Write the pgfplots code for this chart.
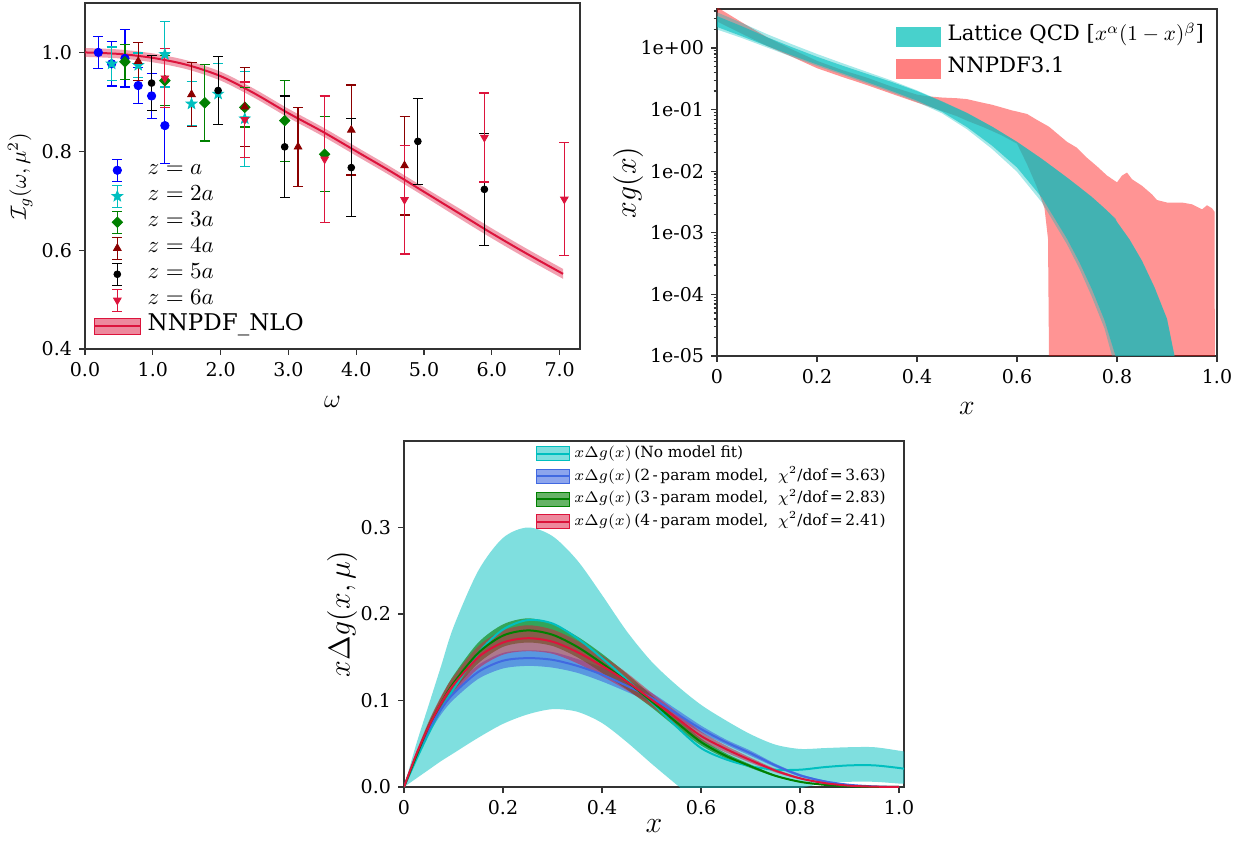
\documentclass[border=0pt]{standalone}
\usepackage{fix-cm}
\usepackage[no-math]{fontspec}
\setmainfont{DejaVu Serif}
\usepackage{pgfplots}
\pgfplotsset{compat=1.18}
\usepackage{pgfplotstable}
\usepgfplotslibrary{fillbetween}

\definecolor{mplc}{rgb}{0,0.75,0.75}
\definecolor{crimson}{RGB}{220,20,60}
\definecolor{dred}{RGB}{139,0,0}
\definecolor{mplgreen}{RGB}{0,128,0}
\definecolor{royalblue}{RGB}{65,105,225}
\definecolor{mturq}{RGB}{72,209,204}

\pgfdeclareplotmark{fstar}{%
  \pgfpathmoveto{\pgfpointpolar{90}{\pgfplotmarksize}}%
  \pgfpathlineto{\pgfpointpolar{126}{0.42\pgfplotmarksize}}%
  \pgfpathlineto{\pgfpointpolar{162}{\pgfplotmarksize}}%
  \pgfpathlineto{\pgfpointpolar{198}{0.42\pgfplotmarksize}}%
  \pgfpathlineto{\pgfpointpolar{234}{\pgfplotmarksize}}%
  \pgfpathlineto{\pgfpointpolar{270}{0.42\pgfplotmarksize}}%
  \pgfpathlineto{\pgfpointpolar{306}{\pgfplotmarksize}}%
  \pgfpathlineto{\pgfpointpolar{342}{0.42\pgfplotmarksize}}%
  \pgfpathlineto{\pgfpointpolar{18}{\pgfplotmarksize}}%
  \pgfpathlineto{\pgfpointpolar{54}{0.42\pgfplotmarksize}}%
  \pgfpathclose\pgfusepathqfillstroke}

\pgfplotsset{
  mystyle/.style={
    scale only axis, anchor=south west,
    axis line style={black!80, line width=0.65pt},
    tick align=outside, tick pos=left,
    major tick length=3pt, minor tick length=1.75pt,
    tick style={black!80, line width=0.6pt},
    tick label style={font=\fontsize{9.5}{11}\selectfont},
  },
  errleg/.style n args={3}{legend image code/.code={
    \draw[#1, line width=0.6pt] (11.5pt,-5.5pt)--(11.5pt,5.5pt) (9pt,-5.5pt)--(14pt,-5.5pt) (9pt,5.5pt)--(14pt,5.5pt);
    \draw[#1, only marks, mark=#2, mark size=#3] plot coordinates {(11.5pt,0pt)};
    \path (0pt,0pt) (23pt,0pt);
  }},
  errpl/.style={error bars/.cd, y dir=both, y explicit,
    error bar style={line width=0.6pt},
    error mark=|,
    error mark options={mark size=2.5pt, line width=0.6pt}},
}

% ---------------- top-left data ----------------
\pgfplotstableread{
x c lo hi
0.0 1.000 0.991 1.009
0.5 0.997 0.988 1.006
1.0 0.989 0.980 0.998
1.5 0.975 0.966 0.984
2.0 0.952 0.943 0.961
2.5 0.917 0.908 0.926
3.0 0.877 0.868 0.886
3.5 0.840 0.831 0.849
4.0 0.800 0.791 0.809
4.5 0.760 0.751 0.769
5.0 0.718 0.709 0.727
5.5 0.676 0.666 0.686
6.0 0.634 0.624 0.644
6.5 0.594 0.584 0.604
7.05 0.552 0.542 0.562
}\nnpdfw

\pgfplotstableread{
w v e
0.196 1.000 0.033
0.393 0.977 0.045
0.589 0.988 0.058
0.785 0.933 0.036
0.982 0.912 0.046
1.178 0.852 0.077
}\za
\pgfplotstableread{
w v e
0.393 0.977 0.034
0.785 0.974 0.025
1.178 0.996 0.066
1.571 0.896 0.045
1.963 0.916 0.062
2.356 0.866 0.096
}\zb
\pgfplotstableread{
w v e
0.589 0.981 0.035
1.178 0.943 0.050
1.767 0.898 0.077
2.356 0.889 0.040
2.945 0.862 0.082
3.534 0.794 0.076
}\zc
\pgfplotstableread{
w v e
0.785 0.982 0.038
1.571 0.915 0.065
2.356 0.890 0.080
3.142 0.809 0.080
3.927 0.843 0.091
4.712 0.771 0.100
}\zd
\pgfplotstableread{
w v e
0.982 0.938 0.055
1.963 0.923 0.068
2.945 0.809 0.103
3.927 0.767 0.099
4.909 0.820 0.087
5.890 0.723 0.113
}\ze
\pgfplotstableread{
w v e
1.178 0.948 0.060
2.356 0.864 0.076
3.534 0.784 0.128
4.712 0.702 0.110
5.890 0.828 0.090
7.069 0.703 0.114
}\zf

% ---------------- top-right data ----------------
\pgfplotstableread{
x lo hi
0.0 2.7 4.6
0.05 1.7 2.6
0.1 1.08 1.5
0.15 0.72 0.95
0.2 0.47 0.62
0.25 0.34 0.44
0.3 0.25 0.33
0.35 0.18 0.235
0.4 0.13 0.175
0.42 0.115 0.165
0.45 0.095 0.157
0.48 0.078 0.153
0.5 0.066 0.148
0.53 0.053 0.13
0.55 0.045 0.12
0.57 0.038 0.108
0.59 0.031 0.097
0.6 0.028 0.093
0.62 0.013 0.085
0.64 0.0055 0.068
0.655 0.0025 0.058
0.662 0.0008 0.054
0.665 0.000001 0.052
0.7 0.000001 0.03
0.72 0.000001 0.024
0.74 0.000001 0.0165
0.76 0.000001 0.012
0.78 0.000001 0.0085
0.8 0.000001 0.0066
0.81 0.000001 0.0085
0.82 0.000001 0.0095
0.83 0.000001 0.0074
0.85 0.000001 0.0058
0.87 0.000001 0.0042
0.88 0.000001 0.0034
0.9 0.000001 0.0031
0.93 0.000001 0.0031
0.95 0.000001 0.0029
0.97 0.000001 0.0024
0.98 0.000001 0.0028
0.99 0.000001 0.0025
0.995 0.000001 0.0022
0.996 0.000001 0.000001
}\nnpdfb

\pgfplotstableread{
x lo hi
0.0 2.2 3.3
0.05 1.55 2.25
0.1 1.08 1.5
0.15 0.76 1.03
0.2 0.54 0.72
0.25 0.39 0.52
0.3 0.28 0.38
0.35 0.2 0.28
0.4 0.14 0.2
0.45 0.092 0.135
0.5 0.052 0.088
0.55 0.026 0.053
0.6 0.0115 0.03
0.65 0.0037 0.0158
0.7 0.0008 0.0079
0.725 0.00033 0.0055
0.75 0.00012 0.0038
0.775 0.000038 0.0025
0.797 0.00001 0.0017
0.8 0.000001 0.0015
0.825 0.000001 0.00078
0.85 0.000001 0.00035
0.875 0.000001 0.00013
0.9 0.000001 0.00004
0.915 0.000001 0.00001
0.93 0.000001 0.000001
}\latmain

\pgfplotstableread{
x lo hi
0.0 2.0 3.8
0.05 1.45 2.55
0.1 1.02 1.68
0.15 0.72 1.15
0.2 0.51 0.8
0.25 0.37 0.57
0.3 0.265 0.41
0.35 0.19 0.295
0.4 0.133 0.205
0.45 0.087 0.137
0.5 0.048 0.089
0.55 0.023 0.053
0.6 0.0098 0.03
0.65 0.0031 0.0158
0.7 0.00065 0.0079
0.725 0.00026 0.0055
0.75 0.00009 0.0038
0.775 0.000028 0.0025
0.79 0.00001 0.0019
0.8 0.000001 0.0015
0.825 0.000001 0.00078
0.85 0.000001 0.00035
0.875 0.000001 0.00013
0.9 0.000001 0.00004
0.915 0.000001 0.00001
0.93 0.000001 0.000001
}\latlight

% ---------------- bottom data ----------------
\pgfplotstableread{
x c lo hi
0 0 0 0
0.025 0.032 0.01 0.05
0.05 0.062 0.02 0.095
0.075 0.09 0.03 0.14
0.1 0.113 0.039 0.185
0.15 0.155 0.057 0.25
0.2 0.182 0.073 0.288
0.25 0.193 0.084 0.3
0.3 0.189 0.09 0.29
0.35 0.172 0.087 0.262
0.4 0.149 0.074 0.222
0.45 0.124 0.052 0.18
0.5 0.098 0.027 0.145
0.55 0.07 0.003 0.118
0.6 0.045 -0.02 0.095
0.65 0.032 -0.03 0.077
0.7 0.024 -0.028 0.061
0.75 0.02 -0.015 0.049
0.8 0.02 -0.002 0.044
0.85 0.023 0.004 0.045
0.9 0.025 0.006 0.046
0.95 0.025 0.006 0.046
1.0 0.022 0.004 0.042
1.01 0.021 0.004 0.041
}\nofit

\pgfplotstableread{
x c lo hi
0 0 0 0
0.025 0.036 0.033 0.039
0.05 0.066 0.061 0.071
0.075 0.09 0.084 0.096
0.1 0.108 0.101 0.115
0.15 0.133 0.125 0.141
0.2 0.146 0.137 0.155
0.25 0.149 0.140 0.158
0.3 0.147 0.138 0.156
0.35 0.14 0.132 0.148
0.4 0.13 0.122 0.138
0.45 0.117 0.110 0.124
0.5 0.103 0.097 0.109
0.55 0.085 0.080 0.090
0.6 0.067 0.063 0.071
0.65 0.052 0.049 0.055
0.7 0.039 0.036 0.042
0.75 0.025 0.023 0.027
0.8 0.0135 0.012 0.015
0.85 0.0065 0.0055 0.0075
0.9 0.0025 0.002 0.003
0.95 0.0007 0.0005 0.0009
1.0 0 0 0
}\twop

\pgfplotstableread{
x c lo hi
0 0 0 0
0.025 0.036 0.033 0.039
0.05 0.07 0.065 0.075
0.075 0.097 0.09 0.104
0.1 0.12 0.111 0.129
0.15 0.155 0.143 0.167
0.2 0.175 0.162 0.188
0.25 0.181 0.167 0.195
0.3 0.176 0.163 0.189
0.35 0.162 0.150 0.174
0.4 0.143 0.132 0.154
0.45 0.122 0.113 0.131
0.5 0.099 0.092 0.106
0.55 0.075 0.069 0.081
0.6 0.052 0.048 0.056
0.65 0.036 0.033 0.039
0.7 0.024 0.022 0.026
0.75 0.013 0.012 0.014
0.8 0.006 0.0055 0.0065
0.85 0.0025 0.0023 0.0027
0.9 0.0008 0.0007 0.0009
0.95 0.0002 0.0002 0.0002
1.0 0 0 0
}\threep

\pgfplotstableread{
x c lo hi
0 0 0 0
0.025 0.038 0.035 0.041
0.05 0.07 0.064 0.076
0.075 0.097 0.089 0.105
0.1 0.118 0.108 0.128
0.15 0.15 0.137 0.163
0.2 0.167 0.153 0.181
0.25 0.172 0.157 0.187
0.3 0.168 0.154 0.182
0.35 0.156 0.143 0.169
0.4 0.14 0.128 0.152
0.45 0.122 0.112 0.132
0.5 0.101 0.093 0.109
0.55 0.08 0.073 0.087
0.6 0.059 0.054 0.064
0.65 0.044 0.040 0.048
0.7 0.031 0.028 0.034
0.75 0.019 0.017 0.021
0.8 0.01 0.009 0.011
0.85 0.0045 0.004 0.005
0.9 0.0015 0.0013 0.0017
0.95 0.0004 0.0003 0.0005
1.0 0 0 0
}\fourp

\begin{document}
\begin{tikzpicture}

% ================= TOP LEFT =================
\begin{axis}[mystyle, at={(42.5pt,246pt)}, width=247.5pt, height=173pt,
  xmin=0, xmax=7.3, ymin=0.4, ymax=1.1,
  xtick={0,1,2,3,4,5,6,7}, xticklabels={0.0,1.0,2.0,3.0,4.0,5.0,6.0,7.0},
  ytick={0.4,0.6,0.8,1.0}, yticklabels={0.4,0.6,0.8,1.0},
  xlabel={$\omega$}, ylabel={$\mathcal{I}_g(\omega,\mu^2)$},
  xlabel style={font=\fontsize{13}{15}\selectfont, at={(axis description cs:0.5,-0.153)}, anchor=center},
  ylabel style={font=\fontsize{11}{13}\selectfont, at={(axis description cs:-0.131,0.5)}, anchor=center},
  legend style={draw=none, fill=none, at={(axis description cs:0.016,0.027)}, anchor=south west,
    font=\fontsize{11.5}{13}\selectfont, row sep=0pt, inner sep=0pt, column sep=3.2pt,
    nodes={inner sep=0pt, text height=8.5pt, text depth=4.5pt}},
  legend cell align=left,
]
\addplot[name path=tlU, draw=none, smooth, forget plot] table[x=x, y=hi] {\nnpdfw};
\addplot[name path=tlL, draw=none, smooth, forget plot] table[x=x, y=lo] {\nnpdfw};
\addplot[fill=crimson, fill opacity=0.4, draw=none, forget plot] fill between[of=tlU and tlL];
\addplot[crimson, line width=1pt, smooth, forget plot] table[x=x, y=c] {\nnpdfw};

\addplot[only marks, color=blue, mark=*, mark size=2.1pt, errleg={blue}{*}{2.1pt}, errpl] table[x=w, y=v, y error=e] {\za};
\addlegendentry{$z=a$}
\addplot[only marks, color=mplc, mark=fstar, mark size=2.8pt, errleg={mplc}{fstar}{2.8pt}, errpl] table[x=w, y=v, y error=e] {\zb};
\addlegendentry{$z=2a$}
\addplot[only marks, color=mplgreen, mark=square*, mark size=1.85pt, mark options={rotate=45}, errleg={mplgreen}{square*, mark options={rotate=45}}{1.85pt}, errpl] table[x=w, y=v, y error=e] {\zc};
\addlegendentry{$z=3a$}
\addplot[only marks, color=dred, mark=triangle*, mark size=2.2pt, errleg={dred}{triangle*}{2.2pt}, errpl] table[x=w, y=v, y error=e] {\zd};
\addlegendentry{$z=4a$}
\addplot[only marks, color=black, mark=*, mark size=1.7pt, errleg={black}{*}{1.7pt}, errpl] table[x=w, y=v, y error=e] {\ze};
\addlegendentry{$z=5a$}
\addplot[only marks, color=crimson, mark=triangle*, mark size=2.2pt, mark options={rotate=180}, errleg={crimson}{triangle*, mark options={rotate=180}}{2.2pt}, errpl] table[x=w, y=v, y error=e] {\zf};
\addlegendentry{$z=6a$}
\addlegendimage{legend image code/.code={\fill[crimson, fill opacity=0.5] (0pt,-4pt) rectangle (23pt,4pt); \draw[crimson, line width=1pt] (0pt,0pt)--(23pt,0pt);}}
\addlegendentry{NNPDF\_NLO}
\end{axis}

% ================= TOP RIGHT =================
\begin{axis}[mystyle, at={(358.5pt,242.5pt)}, width=250pt, height=173.5pt,
  ymode=log, xmin=0, xmax=1, ymin=1e-5, ymax=4.3,
  xtick={0,0.2,0.4,0.6,0.8,1.0}, xticklabels={0,0.2,0.4,0.6,0.8,1.0},
  ytick={1e-5,1e-4,1e-3,1e-2,1e-1,1}, yticklabels={1e-05,1e-04,1e-03,1e-02,1e-01,1e+00},
  minor ytick={2e-5,3e-5,4e-5,5e-5,6e-5,7e-5,8e-5,9e-5,2e-4,3e-4,4e-4,5e-4,6e-4,7e-4,8e-4,9e-4,2e-3,3e-3,4e-3,5e-3,6e-3,7e-3,8e-3,9e-3,2e-2,3e-2,4e-2,5e-2,6e-2,7e-2,8e-2,9e-2,0.2,0.3,0.4,0.5,0.6,0.7,0.8,0.9,2,3,4},
  xlabel={$x$}, ylabel={$xg(x)$},
  xlabel style={font=\fontsize{14}{16}\selectfont, at={(axis description cs:0.5,-0.15)}, anchor=center},
  ylabel style={font=\fontsize{15}{17}\selectfont, at={(axis description cs:-0.178,0.5)}, anchor=center},
  legend style={draw=none, fill=none, at={(axis description cs:0.357,0.968)}, anchor=north west,
    font=\fontsize{10.6}{12.5}\selectfont, row sep=0pt, inner sep=0pt, column sep=3.5pt,
    nodes={inner sep=0pt, text height=10.2pt, text depth=5.8pt}},
  legend cell align=left,
]
\addplot[name path=rU, draw=none, forget plot] table[x=x, y=hi] {\nnpdfb};
\addplot[name path=rL, draw=none, forget plot] table[x=x, y=lo] {\nnpdfb};
\addplot[fill=red, fill opacity=0.42, draw=none, forget plot] fill between[of=rU and rL];
\addplot[name path=lU, draw=none, forget plot] table[x=x, y=hi] {\latlight};
\addplot[name path=lL, draw=none, forget plot] table[x=x, y=lo] {\latlight};
\addplot[fill=mplc, fill opacity=0.35, draw=none, forget plot] fill between[of=lU and lL];
\addplot[name path=mU, draw=none, forget plot] table[x=x, y=hi] {\latmain};
\addplot[name path=mL, draw=none, forget plot] table[x=x, y=lo] {\latmain};
\addplot[fill=mplc, fill opacity=0.6, draw=none, forget plot] fill between[of=mU and mL];
\addlegendimage{legend image code/.code={\fill[mturq] (0pt,-4.75pt) rectangle (22pt,4.75pt);}}
\addlegendentry{Lattice QCD [$x^\alpha(1-x)^\beta$]}
\addlegendimage{legend image code/.code={\fill[red!50] (0pt,-4.75pt) rectangle (22pt,4.75pt);}}
\addlegendentry{NNPDF3.1}
\end{axis}

% ================= BOTTOM =================
\begin{axis}[mystyle, at={(202pt,27pt)}, width=250pt, height=173pt,
  xmin=0, xmax=1.01, ymin=0, ymax=0.4,
  xtick={0,0.2,0.4,0.6,0.8,1.0}, xticklabels={0,0.2,0.4,0.6,0.8,1.0},
  ytick={0,0.1,0.2,0.3}, yticklabels={0.0,0.1,0.2,0.3},
  xlabel={$x$}, ylabel={$x\Delta g(x,\mu)$},
  xlabel style={font=\fontsize{15}{17}\selectfont, at={(axis description cs:0.5,-0.113)}, anchor=center},
  ylabel style={font=\fontsize{15}{17}\selectfont, at={(axis description cs:-0.124,0.5)}, anchor=center},
  legend style={draw=none, fill=none, at={(axis description cs:0.2625,0.997)}, anchor=north west,
    font=\fontsize{7.7}{8.5}\selectfont, row sep=0pt, inner sep=0pt, column sep=2pt,
    nodes={inner sep=0pt, text height=7.5pt, text depth=3.85pt}},
  legend cell align=left,
]
\addplot[name path=cU, draw=none, smooth, forget plot] table[x=x, y=hi] {\nofit};
\addplot[name path=cL, draw=none, smooth, forget plot] table[x=x, y=lo] {\nofit};
\addplot[fill=mplc, fill opacity=0.5, draw=none, forget plot] fill between[of=cU and cL];
\addplot[mplc, line width=1pt, smooth, forget plot] table[x=x, y=c] {\nofit};

\addplot[name path=bU, draw=none, smooth, forget plot] table[x=x, y=hi] {\twop};
\addplot[name path=bL, draw=none, smooth, forget plot] table[x=x, y=lo] {\twop};
\addplot[fill=royalblue, fill opacity=0.6, draw=none, forget plot] fill between[of=bU and bL];
\addplot[royalblue, line width=1pt, smooth, forget plot] table[x=x, y=c] {\twop};

\addplot[name path=gU, draw=none, smooth, forget plot] table[x=x, y=hi] {\threep};
\addplot[name path=gL, draw=none, smooth, forget plot] table[x=x, y=lo] {\threep};
\addplot[fill=mplgreen, fill opacity=0.6, draw=none, forget plot] fill between[of=gU and gL];
\addplot[mplgreen, line width=1pt, smooth, forget plot] table[x=x, y=c] {\threep};

\addplot[name path=qU, draw=none, smooth, forget plot] table[x=x, y=hi] {\fourp};
\addplot[name path=qL, draw=none, smooth, forget plot] table[x=x, y=lo] {\fourp};
\addplot[fill=crimson, fill opacity=0.5, draw=none, forget plot] fill between[of=qU and qL];
\addplot[crimson, line width=1pt, smooth, forget plot] table[x=x, y=c] {\fourp};

\addlegendimage{legend image code/.code={\fill[mplc, fill opacity=0.5] (0pt,-3.5pt) rectangle (16.4pt,3.5pt); \draw[mplc, line width=1pt] (0pt,0pt)--(16.4pt,0pt);}}
\addlegendentry{$x\Delta g(x)$\,(No model fit)}
\addlegendimage{legend image code/.code={\fill[royalblue, fill opacity=0.6] (0pt,-3.5pt) rectangle (16.4pt,3.5pt); \draw[royalblue, line width=1pt] (0pt,0pt)--(16.4pt,0pt);}}
\addlegendentry{$x\Delta g(x)$\,(2\,-\,param model,\ \ $\chi^2$/dof\,=\,3.63)}
\addlegendimage{legend image code/.code={\fill[mplgreen, fill opacity=0.6] (0pt,-3.5pt) rectangle (16.4pt,3.5pt); \draw[mplgreen, line width=1pt] (0pt,0pt)--(16.4pt,0pt);}}
\addlegendentry{$x\Delta g(x)$\,(3\,-\,param model,\ \ $\chi^2$/dof\,=\,2.83)}
\addlegendimage{legend image code/.code={\fill[crimson, fill opacity=0.5] (0pt,-3.5pt) rectangle (16.4pt,3.5pt); \draw[crimson, line width=1pt] (0pt,0pt)--(16.4pt,0pt);}}
\addlegendentry{$x\Delta g(x)$\,(4\,-\,param model,\ \ $\chi^2$/dof\,=\,2.41)}
\end{axis}

\pgfresetboundingbox
\path[use as bounding box] (0pt,0pt) rectangle (618.5pt,420.5pt);
\end{tikzpicture}
\end{document}
